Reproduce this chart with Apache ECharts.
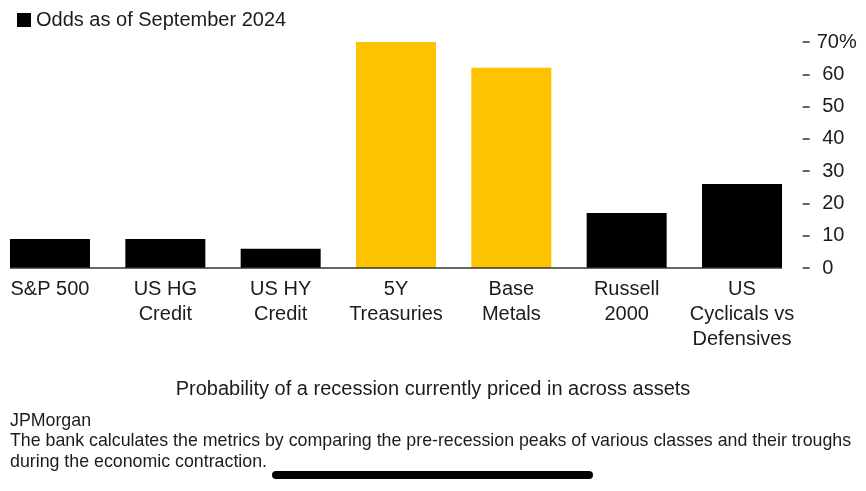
<!DOCTYPE html>
<html><head><meta charset="utf-8">
<script src="https://cdn.jsdelivr.net/npm/echarts@6/dist/echarts.min.js"></script>
<style>html,body{margin:0;padding:0;background:#fff}#c{width:866px;height:491px}</style>
</head><body><div id="c"></div>
<script>
const categories = ['S&P 500', 'US HG\nCredit', 'US HY\nCredit', '5Y\nTreasuries', 'Base\nMetals', 'Russell\n2000', 'US\nCyclicals vs\nDefensives'];
const odds = [9, 9, 6, 70, 62, 17, 26];
const highlighted = [false, false, false, true, true, false, false];
const yTicks = [0, 10, 20, 30, 40, 50, 60, 70];
const seriesName = 'Odds as of September 2024';
const chartTitle = 'Probability of a recession currently priced in across assets';
const sourceText = 'JPMorgan';
const noteText = 'The bank calculates the metrics by comparing the pre-recession peaks of various classes and their troughs\nduring the economic contraction.';

const FONT = '"Liberation Sans", Arial, sans-serif';
const BLACK = '#000000', YELLOW = '#FDC300', TXT = '#1c1c1c';
const BAR_W = 80;

const chart = echarts.init(document.getElementById('c'), null, {renderer: 'canvas'});
chart.setOption({
  animation: false,
  textStyle: {fontFamily: FONT},
  title: {
    text: chartTitle, left: 'center', top: 374,
    textStyle: {fontSize: 20, fontWeight: 'normal', color: TXT, fontFamily: FONT}
  },
  legend: {
    left: 12, top: 5, icon: 'rect', itemWidth: 14, itemHeight: 14, itemGap: 8,
    textStyle: {fontSize: 20, color: TXT, fontFamily: FONT},
    data: [seriesName]
  },
  grid: {left: -7.67, right: 866 - 799.67, top: 42, bottom: 491 - 268, outerBoundsMode: 'none', containLabel: false},
  xAxis: {
    type: 'category', data: categories,
    axisLine: {show: false}, axisTick: {show: false},
    axisLabel: {interval: 0, fontSize: 20, lineHeight: 25, color: TXT, margin: 9, fontFamily: FONT, verticalAlign: 'top'}
  },
  yAxis: {
    type: 'value', position: 'right', min: 0, max: 70, interval: 10, offset: 3,
    splitLine: {show: false}, axisLine: {show: false},
    axisTick: {show: true, length: 7, lineStyle: {color: '#333', width: 1.5}},
    axisLabel: {
      fontSize: 20, color: TXT, margin: 14, align: 'left', fontFamily: FONT,
      formatter: v => (v === yTicks[yTicks.length - 1] ? v + '%' : ' ' + v)
    }
  },
  series: [
    {
      name: seriesName, type: 'bar', barWidth: BAR_W,
      itemStyle: {color: BLACK},
      data: odds.map((v, i) => ({value: v, itemStyle: {color: highlighted[i] ? YELLOW : BLACK}}))
    },
    {
      name: 'baseline', type: 'custom', silent: true, z: 5,
      data: [[0, 0]],
      renderItem: (params, api) => {
        const p0 = api.coord([0, 0]);
        const p1 = api.coord([categories.length - 1, 0]);
        return {
          type: 'line',
          shape: {x1: p0[0] - BAR_W / 2, y1: p0[1], x2: p1[0] + BAR_W / 2, y2: p1[1]},
          style: {stroke: '#333', lineWidth: 1.5}
        };
      }
    }
  ],
  graphic: [
    {type: 'text', left: 10, top: 412, style: {text: sourceText, font: '17.8px "Liberation Sans", Arial, sans-serif', fill: TXT}},
    {type: 'text', left: 10, top: 431, style: {text: noteText, font: '17.8px "Liberation Sans", Arial, sans-serif', fill: TXT, lineHeight: 21}},
    {type: 'rect', left: 272, top: 471, shape: {width: 321, height: 8, r: 4}, style: {fill: '#000'}}
  ]
});
</script></body></html>
